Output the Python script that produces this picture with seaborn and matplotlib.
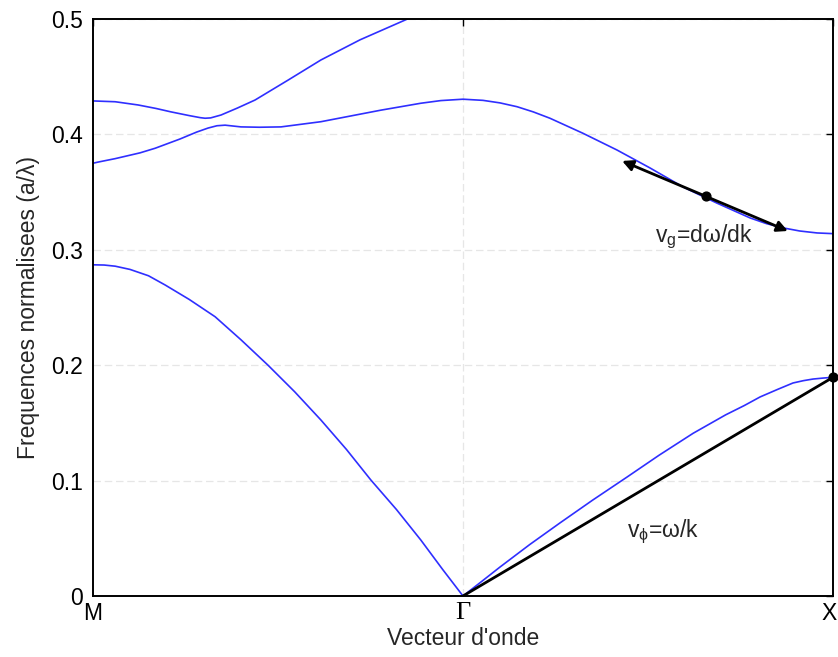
import matplotlib
matplotlib.use("Agg")
import matplotlib.pyplot as plt
import matplotlib.transforms as mtransforms
import seaborn as sns
import pandas as pd

# Wave-vector path: M (0) -> Gamma (1) -> X (2)
tick_pos = [0.0, 1.0, 2.0]
tick_labels = ["M", "Γ", "X"]
y_ticks = [0, 0.1, 0.2, 0.3, 0.4, 0.5]
y_tick_labels = ["0", "0.1", "0.2", "0.3", "0.4", "0.5"]

# Band 1 (lowest)
band1_k = [0.00, 0.03, 0.06, 0.10, 0.15, 0.195, 0.26, 0.33, 0.40, 0.473, 0.545, 0.616, 0.685,
           0.751, 0.82, 0.886, 0.945, 1.00, 1.05, 1.10, 1.18, 1.262, 1.35, 1.443, 1.53, 1.622,
           1.71, 1.76, 1.803, 1.85, 1.892, 1.92, 1.946, 1.975, 2.00]
band1_f = [0.287, 0.2868, 0.2858, 0.283, 0.2775, 0.2695, 0.257, 0.242, 0.222, 0.200, 0.177,
           0.1525, 0.127, 0.1005, 0.075, 0.0485, 0.023, 0.0, 0.0125, 0.0251, 0.0445, 0.0633,
           0.083, 0.103, 0.122, 0.141, 0.157, 0.165, 0.1725, 0.179, 0.1846, 0.1866, 0.188,
           0.1889, 0.1895]

# Band 2
band2_k = [0.0, 0.0135, 0.06, 0.127, 0.168, 0.235, 0.28, 0.311, 0.335, 0.357, 0.38, 0.40,
           0.45, 0.508, 0.616, 0.697, 0.778, 0.886, 0.94, 1.0, 1.054, 1.10, 1.146, 1.19,
           1.235, 1.324, 1.416, 1.505, 1.595, 1.686, 1.776, 1.82, 1.865, 1.91, 1.957, 2.0]
band2_f = [0.375, 0.376, 0.379, 0.384, 0.388, 0.396, 0.402, 0.4055, 0.4075, 0.408, 0.4072,
           0.4065, 0.4062, 0.4065, 0.411, 0.416, 0.421, 0.427, 0.4293, 0.4305, 0.4295, 0.4273,
           0.424, 0.4195, 0.414, 0.401, 0.3865, 0.371, 0.3544, 0.3405, 0.3276, 0.3227, 0.319,
           0.3163, 0.3146, 0.3140]

# Band 3
band3_k = [0.0, 0.06, 0.122, 0.17, 0.211, 0.26, 0.29, 0.303, 0.318, 0.346, 0.39, 0.438,
           0.527, 0.616, 0.722, 0.857, 0.91]
band3_f = [0.429, 0.4283, 0.4255, 0.4225, 0.4195, 0.4163, 0.4145, 0.414, 0.4143, 0.4168,
           0.4228, 0.4298, 0.447, 0.4645, 0.482, 0.501, 0.51]

# Phase velocity segment (Gamma -> X point)
phase_k = [1.0, 2.0]
phase_f = [0.0, 0.1895]

# Group velocity tangent
group_point = (1.657, 0.3462)
group_ends = [(1.43, 0.377), (1.878, 0.3163)]

df = pd.concat([
    pd.DataFrame({"k": band1_k, "f": band1_f, "band": "b1"}),
    pd.DataFrame({"k": band2_k, "f": band2_f, "band": "b2"}),
    pd.DataFrame({"k": band3_k, "f": band3_f, "band": "b3"}),
])

sns.set_style("white")
plt.rcParams["font.family"] = ["Liberation Sans", "DejaVu Sans"]
plt.rcParams["mathtext.fontset"] = "custom"
plt.rcParams["mathtext.rm"] = "Liberation Sans"
plt.rcParams["mathtext.it"] = "Liberation Sans"

fig = plt.figure(figsize=(8.38, 6.57), dpi=100)
ax = fig.add_axes([93 / 838, 61 / 657, 740 / 838, 577 / 657])

# faint gridlines
for y in y_ticks:
    ax.axhline(y, color="#e6e6e6", lw=0.9, ls=(0, (6, 3)), zorder=0)
ax.axvline(1.0, color="#e6e6e6", lw=0.9, ls=(0, (6, 3)), zorder=0)

sns.lineplot(data=df, x="k", y="f", units="band", estimator=None, sort=False,
             color="#2f2fff", lw=1.2, ax=ax, legend=False)

sns.lineplot(x=phase_k, y=phase_f, color="black", lw=2.0, ax=ax, legend=False,
             estimator=None, sort=False)
ax.scatter([phase_k[-1]], [phase_f[-1]], s=40, color="black", zorder=5, clip_on=False)

ax.annotate("", xy=group_ends[0], xytext=group_ends[1],
            arrowprops=dict(arrowstyle="<|-|>", color="black", lw=2.0,
                            mutation_scale=16, shrinkA=0, shrinkB=0))
ax.scatter([group_point[0]], [group_point[1]], s=40, color="black", zorder=5)

ax.text(1.519, 0.3068, r"v$_\mathregular{g}$=dω/dk", fontsize=16.5, va="baseline", ha="left")
ax.text(1.443, 0.0511, r"v$_\mathregular{ϕ}$=ω/k", fontsize=16.5, va="baseline", ha="left")

ax.set_xlim(0, 2)
ax.set_ylim(0, 0.5)
ax.set_xticks(tick_pos)
ax.set_xticklabels(tick_labels)
ax.set_yticks(y_ticks)
ax.set_yticklabels(y_tick_labels)
ax.tick_params(direction="in", length=5, width=1, top=True, right=True,
               labelsize=16.5, colors="black")
ax.tick_params(axis="x", pad=4)
ax.tick_params(axis="y", pad=7)

xlabels = ax.get_xticklabels()
xlabels[1].set_fontfamily("Liberation Serif")
xlabels[1].set_fontsize(19)
# keep the last label inside the canvas
xlabels[2].set_transform(xlabels[2].get_transform() +
                         mtransforms.ScaledTranslation(-4 / 100, 0, fig.dpi_scale_trans))

for s in ax.spines.values():
    s.set_color("black")
    s.set_linewidth(1.4)

ax.set_xlabel("Vecteur d'onde", fontsize=16.5, labelpad=2)
ax.set_ylabel("Frequences normalisees (a/λ)", fontsize=16.5, labelpad=8)

fig.savefig("out.png", dpi=100)
